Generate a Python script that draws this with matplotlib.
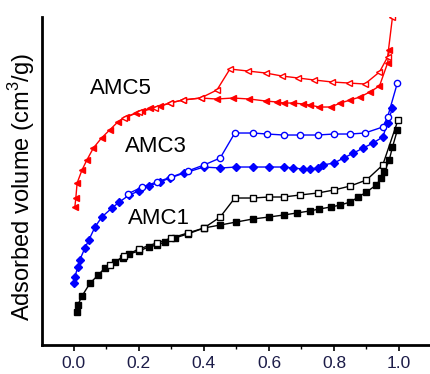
import matplotlib.pyplot as plt
from matplotlib.ticker import MultipleLocator

plt.rcParams["font.family"] = ["Liberation Sans", "DejaVu Sans"]
plt.rcParams["mathtext.fontset"] = "custom"
plt.rcParams["mathtext.rm"] = "Liberation Sans"

# relative pressure P/P0 and adsorbed volume (arbitrary units)
amc5_ads_p = [0.003, 0.006, 0.01, 0.025, 0.04, 0.06, 0.085, 0.11, 0.135, 0.16, 0.19, 0.21,
              0.235, 0.265, 0.295, 0.335, 0.39, 0.44, 0.49, 0.54, 0.59, 0.625, 0.645, 0.675,
              0.705, 0.725, 0.755, 0.79, 0.82, 0.85, 0.88, 0.91, 0.94, 0.965, 0.97]
amc5_ads_v = [138, 147, 162, 175, 185, 197, 207, 215, 223, 228, 232, 234,
              237, 239, 242, 245, 247, 246, 247, 246, 244, 243, 242, 242,
              241, 240, 238, 238, 242, 245, 248, 253, 259, 282, 295]
amc5_des_p = [0.98, 0.965, 0.94, 0.895, 0.845, 0.795, 0.74, 0.69, 0.64, 0.59, 0.535, 0.48,
              0.44, 0.39, 0.335, 0.295, 0.25, 0.2, 0.155]
amc5_des_v = [328, 288, 273, 261, 262, 263, 265, 267, 269, 272, 274, 276,
              255, 247, 245, 242, 237, 233, 227]

amc3_ads_p = [0.0, 0.003, 0.012, 0.018, 0.034, 0.046, 0.065, 0.086, 0.117, 0.14, 0.17, 0.2,
              0.23, 0.265, 0.295, 0.34, 0.4, 0.45, 0.5, 0.55, 0.6, 0.645, 0.675, 0.705,
              0.725, 0.75, 0.765, 0.8, 0.83, 0.86, 0.89, 0.92, 0.95, 0.965, 0.98]
amc3_ads_v = [62, 68, 78, 85, 97, 105, 118, 128, 137, 143, 150, 154,
              159, 163, 167, 172, 178, 177, 178, 178, 178, 178, 177, 176,
              176, 177, 180, 182, 187, 192, 197, 202, 208, 222, 237]
amc3_des_p = [0.995, 0.965, 0.95, 0.895, 0.85, 0.8, 0.75, 0.695, 0.645, 0.595, 0.55, 0.495,
              0.45, 0.4, 0.35, 0.3, 0.255, 0.21, 0.165]
amc3_des_v = [262, 228, 218, 212, 211, 211, 210, 210, 210, 211, 212, 212,
              187, 180, 174, 168, 163, 158, 151]

amc1_ads_p = [0.01, 0.012, 0.025, 0.05, 0.075, 0.095, 0.125, 0.15, 0.17, 0.2, 0.23, 0.255,
              0.28, 0.31, 0.35, 0.4, 0.45, 0.5, 0.55, 0.6, 0.645, 0.685, 0.725, 0.755,
              0.79, 0.82, 0.85, 0.875, 0.9, 0.93, 0.945, 0.955, 0.97, 0.98, 0.995]
amc1_ads_v = [33, 40, 49, 62, 70, 77, 83, 87, 91, 94, 98, 100,
              103, 107, 111, 117, 120, 123, 126, 128, 130, 132, 134, 136,
              138, 140, 143, 148, 153, 160, 167, 173, 185, 198, 215]
amc1_des_p = [0.997, 0.95, 0.9, 0.85, 0.8, 0.75, 0.695, 0.645, 0.6, 0.55, 0.495, 0.45,
              0.4, 0.35, 0.3, 0.255, 0.2, 0.155, 0.11]
amc1_des_v = [225, 180, 165, 159, 155, 152, 150, 148, 148, 147, 147, 128,
              117, 112, 107, 102, 96, 89, 80]


def main():
    fig = plt.figure(figsize=(4.3, 3.74), dpi=100)
    ax = fig.add_axes([0.0977, 0.0775, 0.902, 0.877])

    ms = 4.5
    ax.plot(amc1_ads_p, amc1_ads_v, color="black", lw=1, marker="s", ms=ms, mfc="black")
    ax.plot(amc1_des_p, amc1_des_v, color="black", lw=1, marker="s", ms=ms, mfc="white")
    ax.plot(amc3_ads_p, amc3_ads_v, color="#0000ff", lw=1, marker="D", ms=ms, mfc="#0000ff")
    ax.plot(amc3_des_p, amc3_des_v, color="#0000ff", lw=1, marker="o", ms=ms, mfc="white")
    ax.plot(amc5_ads_p, amc5_ads_v, color="#ff0000", lw=1, marker="<", ms=ms, mfc="#ff0000")
    ax.plot(amc5_des_p, amc5_des_v, color="#ff0000", lw=1, marker="<", ms=ms, mfc="white")

    ax.text(0.049, 257, "AMC5", fontsize=16, va="center", ha="left")
    ax.text(0.157, 199, "AMC3", fontsize=16, va="center", ha="left")
    ax.text(0.166, 127, "AMC1", fontsize=16, va="center", ha="left")

    ax.set_xlim(-0.098, 1.095)
    ax.set_ylim(0, 328)
    ax.xaxis.set_minor_locator(MultipleLocator(0.1))
    ax.set_xticks([0.0, 0.2, 0.4, 0.6, 0.8, 1.0])
    ax.set_xticklabels(["0.0", "0.2", "0.4", "0.6", "0.8", "1.0"])
    ax.tick_params(axis="x", which="major", length=4, width=1.2, labelsize=12.5,
                   labelcolor="#1c1c48", pad=4)
    ax.tick_params(axis="x", which="minor", length=3, width=1)
    ax.set_yticks([])
    for side in ("top", "right"):
        ax.spines[side].set_visible(False)
    ax.spines["left"].set_linewidth(2)
    ax.spines["bottom"].set_linewidth(2)

    fig.text(0.05, 0.5, "Adsorbed volume (cm$^3$/g)", rotation=90, fontsize=17,
             ha="center", va="center")

    fig.savefig("out.png", dpi=100)


if __name__ == "__main__":
    main()
